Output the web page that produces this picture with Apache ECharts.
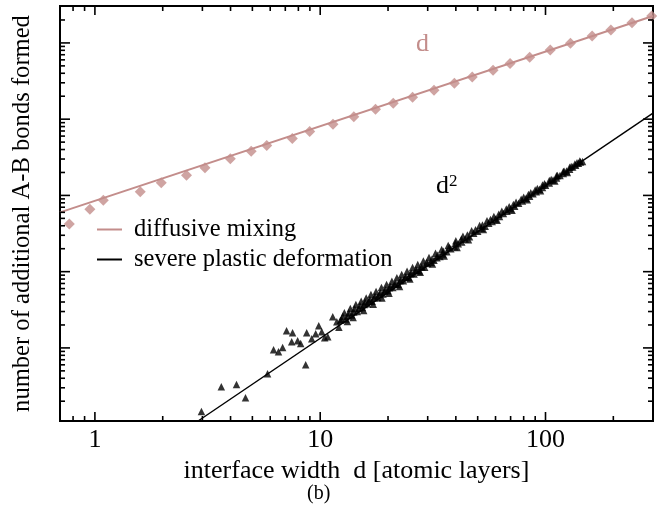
<!DOCTYPE html>
<html>
<head>
<meta charset="utf-8">
<script src="https://cdn.jsdelivr.net/npm/echarts@6/dist/echarts.min.js"></script>
<style>
html,body{margin:0;padding:0;background:#fff;}
#con{width:665px;height:511px;}
</style>
</head>
<body>
<div id="con"></div>
<script>
// axis ranges
var X_MIN = 0.7, X_MAX = 300;
var Y_MIN = 1.1, Y_MAX = 3.05e5;

// tick values
var xMajor = [1, 10, 100];
var xMinor = [0.8, 0.9, 2, 3, 4, 5, 6, 7, 8, 9, 20, 30, 40, 50, 60, 70, 80, 90, 200];
var yMajor = [10, 100, 1000, 10000, 100000];
var yMinor = [2, 3, 4, 5, 6, 7, 8, 9,
              20, 30, 40, 50, 60, 70, 80, 90,
              200, 300, 400, 500, 600, 700, 800, 900,
              2000, 3000, 4000, 5000, 6000, 7000, 8000, 9000,
              20000, 30000, 40000, 50000, 60000, 70000, 80000, 90000,
              200000];

// diffusive mixing (diamonds)
var mixD = [0.77, 0.95, 1.09, 1.59, 1.97, 2.55, 3.08, 3.99, 4.94, 5.79, 7.52, 8.98, 11.4, 14.1,
            17.6, 21.1, 25.7, 32.0, 39.4, 47.3, 58.5, 69.6, 85.1, 105, 129, 161, 195, 242, 296];
var mixN = [421, 661, 867, 1114, 1462, 1845, 2301, 3017, 3808, 4508, 5568, 6877, 8590, 10780,
            13520, 16200, 19420, 23980, 29630, 35850, 43850, 53860, 65020, 80950, 99100,
            123600, 148000, 184500, 225900];
// fit line ~ d
var mixFit = [[0.7, 600], [300, 226000]];

// severe plastic deformation (triangles)
var spdD = [2.97, 3.64, 4.25, 4.66, 5.84, 6.21, 6.53, 6.81, 7.09, 7.54, 7.47, 7.94, 8.19, 8.62,
            8.71, 9.17, 9.55, 9.85, 10.16, 10.47, 10.8, 11.37, 11.85,
            12.3, 12.6, 13.0, 13.4, 13.8, 14.2, 14.6, 15.0, 15.4, 15.8, 16.2, 16.6, 17.0, 17.5,
            18.0, 18.5, 19.0, 19.5, 20, 20.5, 21, 21.6, 22.2, 22.8, 23.4, 24, 24.7, 25.4, 26.1,
            26.8, 27.5, 28.3, 29.1, 30, 31, 32, 33, 34, 35, 36.5, 38, 39.5, 41, 42.5, 44, 46,
            48, 50, 52, 54, 56, 58, 60, 62.5, 65, 67.5, 70, 73, 76, 79, 82, 85, 88, 91, 94, 97,
            100, 104, 108, 112, 116, 120, 124, 128, 132, 136, 140, 143, 146,
            12.8, 13.6, 14.4, 15.2, 16.0, 16.8, 17.7, 18.7, 19.7, 20.8, 21.9, 23.0, 24.3, 25.7,
            27.1, 28.7, 30.4, 32.5, 34.6, 37, 40, 43, 47, 51, 55, 59, 64, 69, 74, 80, 86, 92,
            99, 106, 113, 121, 130, 138,
            12.1, 13.2, 14.0, 15.6, 17.2, 18.8, 20.2, 22.5, 25, 27.8, 31.5, 35.5, 40.5, 45.5,
            53, 61, 71, 83, 95, 110, 125,
            12.45, 13.3, 14.1, 14.9, 15.7, 16.5, 17.4, 18.3, 19.3, 20.3, 21.4, 22.6, 23.8, 25.1,
            26.5, 28, 29.6, 31.3, 33.2, 35.2, 37.4, 39.8, 42.3, 45, 48.9, 52.5, 57, 62, 67, 72,
            78, 84, 90, 97, 104, 112, 120, 128, 135, 142];
var spdN = [1.46, 3.1, 3.3, 2.22, 4.59, 9.46, 8.91, 10.1, 16.8, 15.8, 12.0, 12.4, 11.4, 6.03,
            15.8, 13.2, 15.3, 19.5, 16.3, 13.6, 14.0, 25.6, 22.0,
            23, 26, 24, 29, 27, 33, 30, 36, 34, 40, 38, 43, 41, 48,
            46, 53, 51, 58, 56, 64, 62, 70, 68, 78, 76, 86, 84, 95, 93,
            104, 102, 115, 114, 128, 133, 141, 152, 158, 171, 182, 200, 212, 233, 245, 268, 288,
            318, 340, 372, 395, 430, 455, 492, 530, 578, 618, 668, 722, 788, 845, 915, 975, 1055, 1118, 1205, 1268,
            1362, 1458, 1588, 1690, 1828, 1940, 2088, 2205, 2362, 2488, 2650, 2752, 2790,
            29, 33, 37, 41, 45, 50, 55, 62, 68, 75, 83, 92, 101, 113,
            124, 138, 153, 174, 195, 220, 255, 292, 345, 404, 465, 530, 618, 712, 812, 945, 1085, 1230,
            1418, 1615, 1825, 2080, 2390, 2680,
            18.6, 22.2, 25, 31, 37.5, 45, 52, 64, 80, 98, 126, 160, 208, 263,
            356, 472, 640, 875, 1150, 1545, 2000,
            23.5, 26.5, 29.5, 33, 37, 40.5, 45, 50, 55.5, 61.5, 68.5, 76, 84.5, 94,
            105, 117, 131, 146, 164, 185, 208, 236, 267, 302, 355, 408, 482, 568, 662, 762,
            890, 1030, 1180, 1365, 1565, 1805, 2065, 2340, 2590, 2830];
// fit line ~ d^2
var spdFit = [[2.87, 1.1], [300, 12000]];

var PINK = '#c38d8b';
var FONT = 'Liberation Serif';

function zip(a, b) {
	var out = [];
	for (var i = 0; i < a.length; i++) {
		out.push([a[i], b[i]]);
	}
	return out;
}

// ticks drawn on all four sides, pointing inward
function tickSeries(values, isY, len) {
	var data = values.map(function (v) {
		return isY ? [X_MIN, v] : [v, Y_MIN];
	});
	return {
		type: 'custom',
		silent: true,
		clip: false,
		z: 5,
		data: data,
		renderItem: function (params, api) {
			var st = {stroke: '#000', lineWidth: 1.6};
			if (!isY) {
				var v = api.value(0);
				var b = api.coord([v, Y_MIN]);
				var t = api.coord([v, Y_MAX]);
				return {type: 'group', children: [
					{type: 'line', shape: {x1: b[0], y1: b[1], x2: b[0], y2: b[1] - len}, style: st},
					{type: 'line', shape: {x1: t[0], y1: t[1], x2: t[0], y2: t[1] + len}, style: st}
				]};
			}
			var w = api.value(1);
			var l = api.coord([X_MIN, w]);
			var r = api.coord([X_MAX, w]);
			return {type: 'group', children: [
				{type: 'line', shape: {x1: l[0], y1: l[1], x2: l[0] + len, y2: l[1]}, style: st},
				{type: 'line', shape: {x1: r[0], y1: r[1], x2: r[0] - len, y2: r[1]}, style: st}
			]};
		}
	};
}

var myChart = echarts.init(document.getElementById('con'));

var option = {
	animation: false,
	backgroundColor: '#fff',
	textStyle: {fontFamily: FONT},
	grid: {
		left: 60, right: 12, top: 6, bottom: 90,
		show: true, borderColor: '#000', borderWidth: 2
	},
	legend: {
		data: ['diffusive mixing', 'severe plastic deformation'],
		orient: 'vertical',
		left: 97, top: 217, padding: 0,
		icon: 'rect',
		itemWidth: 25, itemHeight: 2, itemGap: 5,
		textStyle: {fontFamily: FONT, fontSize: 24.5, color: '#000', padding: [0, 0, 0, 7]}
	},
	xAxis: {
		type: 'log',
		min: X_MIN, max: X_MAX,
		name: 'interface width  d [atomic layers]',
		nameLocation: 'middle', nameGap: 29,
		nameTextStyle: {fontFamily: FONT, fontSize: 26, color: '#000'},
		axisLine: {show: false},
		axisTick: {show: false},
		splitLine: {show: false},
		axisLabel: {
			margin: 6, fontFamily: FONT, fontSize: 26, color: '#000',
			showMinLabel: true, showMaxLabel: true,
			formatter: function (v) {
				var e = Math.log10(v);
				return Math.abs(e - Math.round(e)) < 1e-6 ? String(Math.round(v)) : '';
			}
		}
	},
	yAxis: {
		type: 'log',
		min: Y_MIN, max: Y_MAX,
		name: 'number of additional A-B bonds formed',
		nameLocation: 'middle', nameGap: 25,
		nameTextStyle: {fontFamily: FONT, fontSize: 24.6, color: '#000'},
		axisLine: {show: false},
		axisTick: {show: false},
		splitLine: {show: false},
		axisLabel: {show: false}
	},
	graphic: [
		{type: 'text', left: 416, top: 31, style: {text: 'd', fontFamily: FONT, fontSize: 26, fill: PINK}},
		{type: 'text', left: 436, top: 173, style: {
			text: '{b|d}{s|2}',
			rich: {
				b: {fontFamily: FONT, fontSize: 26, fill: '#000', verticalAlign: 'bottom'},
				s: {fontFamily: FONT, fontSize: 17, fill: '#000', verticalAlign: 'top'}
			}
		}},
		{type: 'text', left: 307, top: 484, style: {text: '(b)', fontFamily: FONT, fontSize: 20, fill: '#000'}}
	],
	series: [
		{
			name: 'diffusive mixing',
			type: 'line',
			data: mixFit,
			symbol: 'none',
			lineStyle: {color: PINK, width: 2},
			itemStyle: {color: PINK},
			z: 2
		},
		{
			name: 'mix points',
			type: 'scatter',
			data: zip(mixD, mixN),
			symbol: 'diamond',
			symbolSize: 11,
			itemStyle: {color: PINK},
			z: 3
		},
		{
			name: 'severe plastic deformation',
			type: 'line',
			data: spdFit,
			symbol: 'none',
			lineStyle: {color: '#000', width: 1.4},
			itemStyle: {color: '#000'},
			z: 2
		},
		{
			name: 'spd points',
			type: 'scatter',
			data: zip(spdD, spdN),
			symbol: 'triangle',
			symbolSize: 7.5,
			itemStyle: {color: '#000'},
			z: 3
		},
		tickSeries(xMajor, false, 9),
		tickSeries(xMinor, false, 5),
		tickSeries(yMajor, true, 10),
		tickSeries(yMinor, true, 5)
	]
};

myChart.setOption(option);
window.onresize = myChart.resize;
</script>
</body>
</html>
